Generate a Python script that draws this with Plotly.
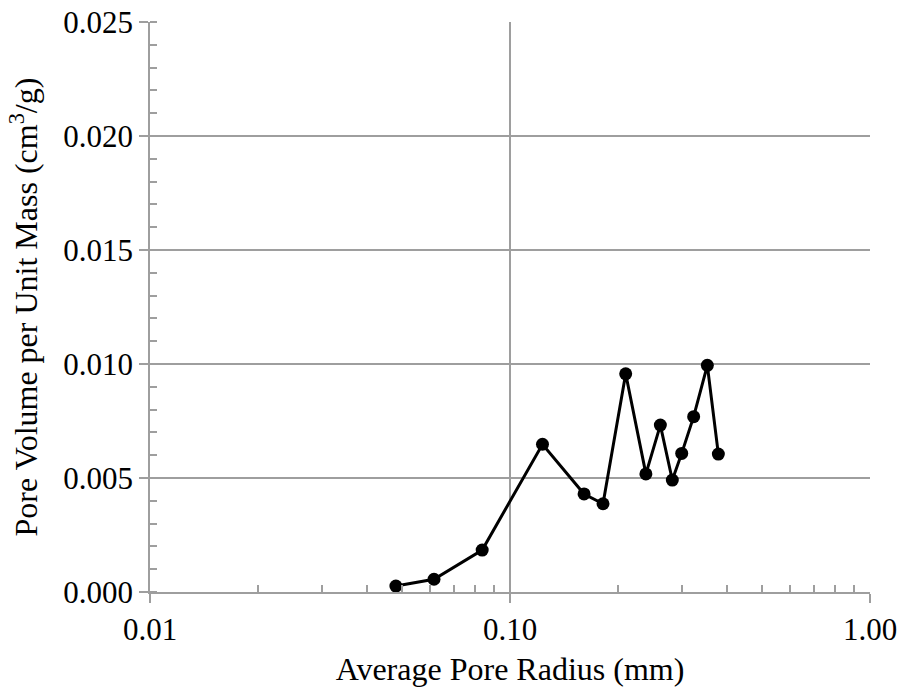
import plotly.graph_objects as go

# Average pore radius (mm) and pore volume per unit mass (cm^3/g)
radius_mm = [0.0482, 0.0615, 0.0837, 0.1231, 0.1606, 0.1813, 0.2096, 0.2385,
             0.2616, 0.2824, 0.2999, 0.3237, 0.3533, 0.3791]
pore_volume = [0.00026, 0.00056, 0.00184, 0.00648, 0.00430, 0.00387, 0.00957,
               0.00518, 0.00732, 0.00491, 0.00608, 0.00769, 0.00994, 0.00605]

x_major = [0.01, 0.1, 1.0]
x_major_text = ["0.01", "0.10", "1.00"]
x_minor = [m * d for d in (0.01, 0.1) for m in range(2, 10)]

FONT = "Liberation Serif, Times New Roman, serif"
GRID = "#9e9e9e"
FS = 31
FS_TITLE = 32

fig = go.Figure()
fig.add_trace(go.Scatter(
    x=radius_mm, y=pore_volume, mode="lines+markers",
    line=dict(color="black", width=3),
    marker=dict(color="black", size=13),
    showlegend=False,
))

fig.update_layout(
    width=903, height=694,
    margin=dict(l=150, r=33, t=22, b=102),
    paper_bgcolor="white", plot_bgcolor="white",
    font=dict(family=FONT, size=FS, color="black"),
)

fig.update_xaxes(
    type="log", range=[-2, 0], automargin=False,
    tickmode="array", tickvals=x_major, ticktext=x_major_text,
    ticks="outside", ticklen=9, tickwidth=1.5, tickcolor=GRID,
    showgrid=True, gridcolor=GRID, gridwidth=1.5,
    showline=True, linecolor=GRID, linewidth=1.5,
    minor=dict(tickmode="array", tickvals=x_minor, ticks="inside",
               ticklen=7, tickwidth=1.5, tickcolor=GRID, showgrid=False),
    title=dict(text="Average Pore Radius (mm)", font=dict(size=FS_TITLE), standoff=12),
    tickfont=dict(size=FS),
    zeroline=False,
)

fig.update_yaxes(
    range=[0, 0.025], dtick=0.005, tick0=0, tickformat=".3f", automargin=False,
    ticks="outside", ticklen=9, tickwidth=1.5, tickcolor=GRID,
    showgrid=True, gridcolor=GRID, gridwidth=1.5,
    showline=True, linecolor=GRID, linewidth=1.5,
    minor=dict(dtick=0.001, ticks="inside", ticklen=7, tickwidth=1.5,
               tickcolor=GRID, showgrid=False),
    title=dict(text="Pore Volume per Unit Mass (cm<sup>3</sup>/g)",
               font=dict(size=FS_TITLE), standoff=16),
    tickfont=dict(size=FS),
    zeroline=False,
)

fig.write_html("out.html")
